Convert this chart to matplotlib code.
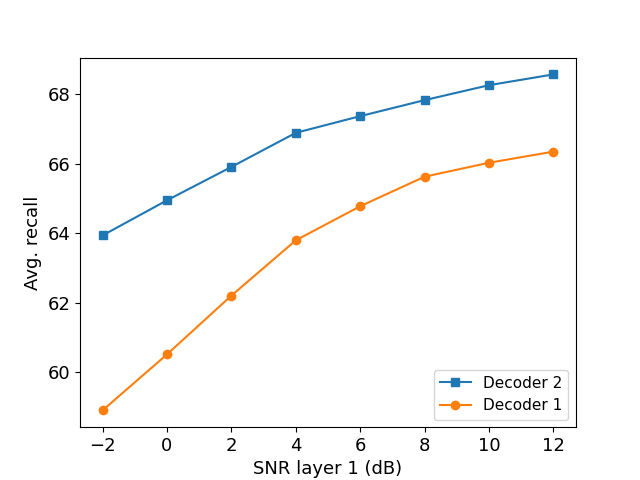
import matplotlib
matplotlib.use("Agg")
import matplotlib.pyplot as plt

snr = [-2, 0, 2, 4, 6, 8, 10, 12]
decoder2 = [63.94, 64.95, 65.91, 66.89, 67.37, 67.83, 68.26, 68.57]
decoder1 = [58.91, 60.52, 62.21, 63.80, 64.78, 65.63, 66.03, 66.35]

fig, ax = plt.subplots(figsize=(6.4, 4.8), dpi=100)
ax.plot(snr, decoder2, marker='s', label='Decoder 2')
ax.plot(snr, decoder1, marker='o', label='Decoder 1')
ax.set_xlabel('SNR layer 1 (dB)', fontsize=13)
ax.set_ylabel('Avg. recall', fontsize=13)
ax.set_xticks(snr)
ax.tick_params(labelsize=13)
ax.legend(loc='lower right', fontsize=11)
fig.savefig('out.png')
